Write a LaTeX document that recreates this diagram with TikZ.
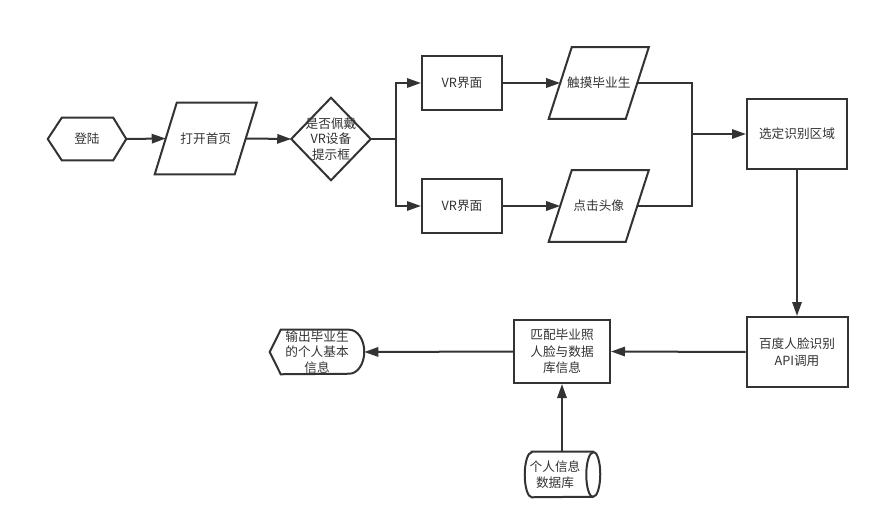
\documentclass[tikz,border=0pt]{standalone}
\usepackage{fontspec}
\setmainfont{Noto Sans CJK SC}
\usetikzlibrary{arrows.meta,calc}
\definecolor{ink}{HTML}{333333}
\begin{document}
\begin{tikzpicture}[x=0.75pt,y=-0.75pt,
  every node/.style={font=\fontsize{9.5}{12.5}\selectfont, text=ink, align=center, inner sep=0pt},
  outline/.style={draw=ink, line width=1.5pt, line join=miter},
  % invisible frame that carries a label; the outline is drawn around it
  frame/.style 2 args={rectangle, minimum width=#1, minimum height=#2},
  box/.style 2 args={frame={#1}{#2}, outline},
  tight/.style={font=\fontsize{9.5}{11.5}\selectfont},
  link/.style={draw=ink, line width=1.5pt},
  arr/.style={link, -{Triangle[length=10.5pt,width=7pt]}}
]
\useasboundingbox (0,0) rectangle (879,528);

% --- start: hexagon ---
\node[frame={58.5pt}{31.5pt}] (login) at (87,139) {登陆};
\draw[outline] (login.west) -- ($(login.north west)+(14,0)$) -- ($(login.north east)+(-13,0)$)
  -- (login.east) -- ($(login.south east)+(-13,0)$) -- ($(login.south west)+(14,0)$) -- cycle;

% --- open home page: parallelogram ---
\node[frame={59.6pt}{53.25pt}] (open) at (205.75,138.5) {打开首页};
\draw[outline] ($(open.north west)+(11,0)$) -- ($(open.north east)+(11,0)$)
  -- ($(open.south east)+(-11,0)$) -- ($(open.south west)+(-11,0)$) -- cycle;

% --- decision: diamond ---
\node[frame={59.25pt}{61.5pt}, tight] (dia) at (331,139) {是否佩戴\\VR设备\\提示框};
\draw[outline] (dia.west) -- (dia.north) -- (dia.east) -- (dia.south) -- cycle;

% --- VR screens ---
\node[box={60pt}{40.5pt}] (vr1) at (462,83) {VR界面};
\node[box={60pt}{40.5pt}] (vr2) at (462,206) {VR界面};

% --- inputs: parallelograms ---
\node[frame={57.4pt}{53.25pt}] (touch) at (598.75,83) {触摸毕业生};
\draw[outline] ($(touch.north west)+(11.5,0)$) -- ($(touch.north east)+(11.5,0)$)
  -- ($(touch.south east)+(-11.5,0)$) -- ($(touch.south west)+(-11.5,0)$) -- cycle;
\node[frame={57.4pt}{53.25pt}] (click) at (598.75,206) {点击头像};
\draw[outline] ($(click.north west)+(11.5,0)$) -- ($(click.north east)+(11.5,0)$)
  -- ($(click.south east)+(-11.5,0)$) -- ($(click.south west)+(-11.5,0)$) -- cycle;

% --- processing boxes ---
\node[box={75pt}{52.5pt}] (select) at (797,134) {选定识别区域};
\node[box={75.75pt}{52.5pt}] (api) at (797,352) {百度人脸识别\\API调用};
\node[box={72pt}{47.25pt}] (match) at (562,351.5) {匹配毕业照\\人脸与数据\\库信息};

% --- output: display shape ---
\node[frame={70.5pt}{33pt}, tight] (disp) at (317,352) {输出毕业生\\的个人基本\\信息};
\draw[outline] (disp.west) -- ($(disp.north west)+(11,0)$) -- ($(disp.north east)+(-15,0)$)
  arc[start angle=90, end angle=-90, x radius=11.25pt, y radius=16.5pt]
  -- ($(disp.south west)+(11,0)$) -- cycle;

% --- database: horizontal cylinder ---
\node[frame={45pt}{33.75pt}, tight] (db) at (555,474.5) {个人信息\\数据库};
\draw[outline] ($(db.north west)+(7,0)$) -- ($(db.north east)+(8,0)$)
  arc[start angle=90, end angle=-90, x radius=5.25pt, y radius=16.875pt]
  -- ($(db.south west)+(7,0)$)
  arc[start angle=270, end angle=90, x radius=5.25pt, y radius=16.875pt] -- cycle;
\draw[outline] ($(db.south east)+(8,0)$)
  arc[start angle=270, end angle=90, x radius=5.25pt, y radius=16.875pt];

% --- connectors ---
\coordinate (split) at (396,139);
\coordinate (merge) at (692,134);
\draw[arr] (login.east) -- (open.west);
\draw[arr] (open.east) -- (dia.west);
\draw[link] (dia.east) -- (split);
\draw[arr] (split) |- (vr1.west);
\draw[arr] (split) |- (vr2.west);
\draw[arr] (vr1.east) -- (touch.west);
\draw[arr] (vr2.east) -- (click.west);
\draw[link] (touch.east) -| (merge);
\draw[link] (click.east) -| (merge);
\draw[arr] (merge) -- (select.west);
\draw[arr] (select.south) -- (api.north);
\draw[arr] (api.west) -- (match.east);
\draw[arr] (match.west) -- (disp.east);
\draw[arr] (db.north -| match.south) -- (match.south);
\end{tikzpicture}
\end{document}
